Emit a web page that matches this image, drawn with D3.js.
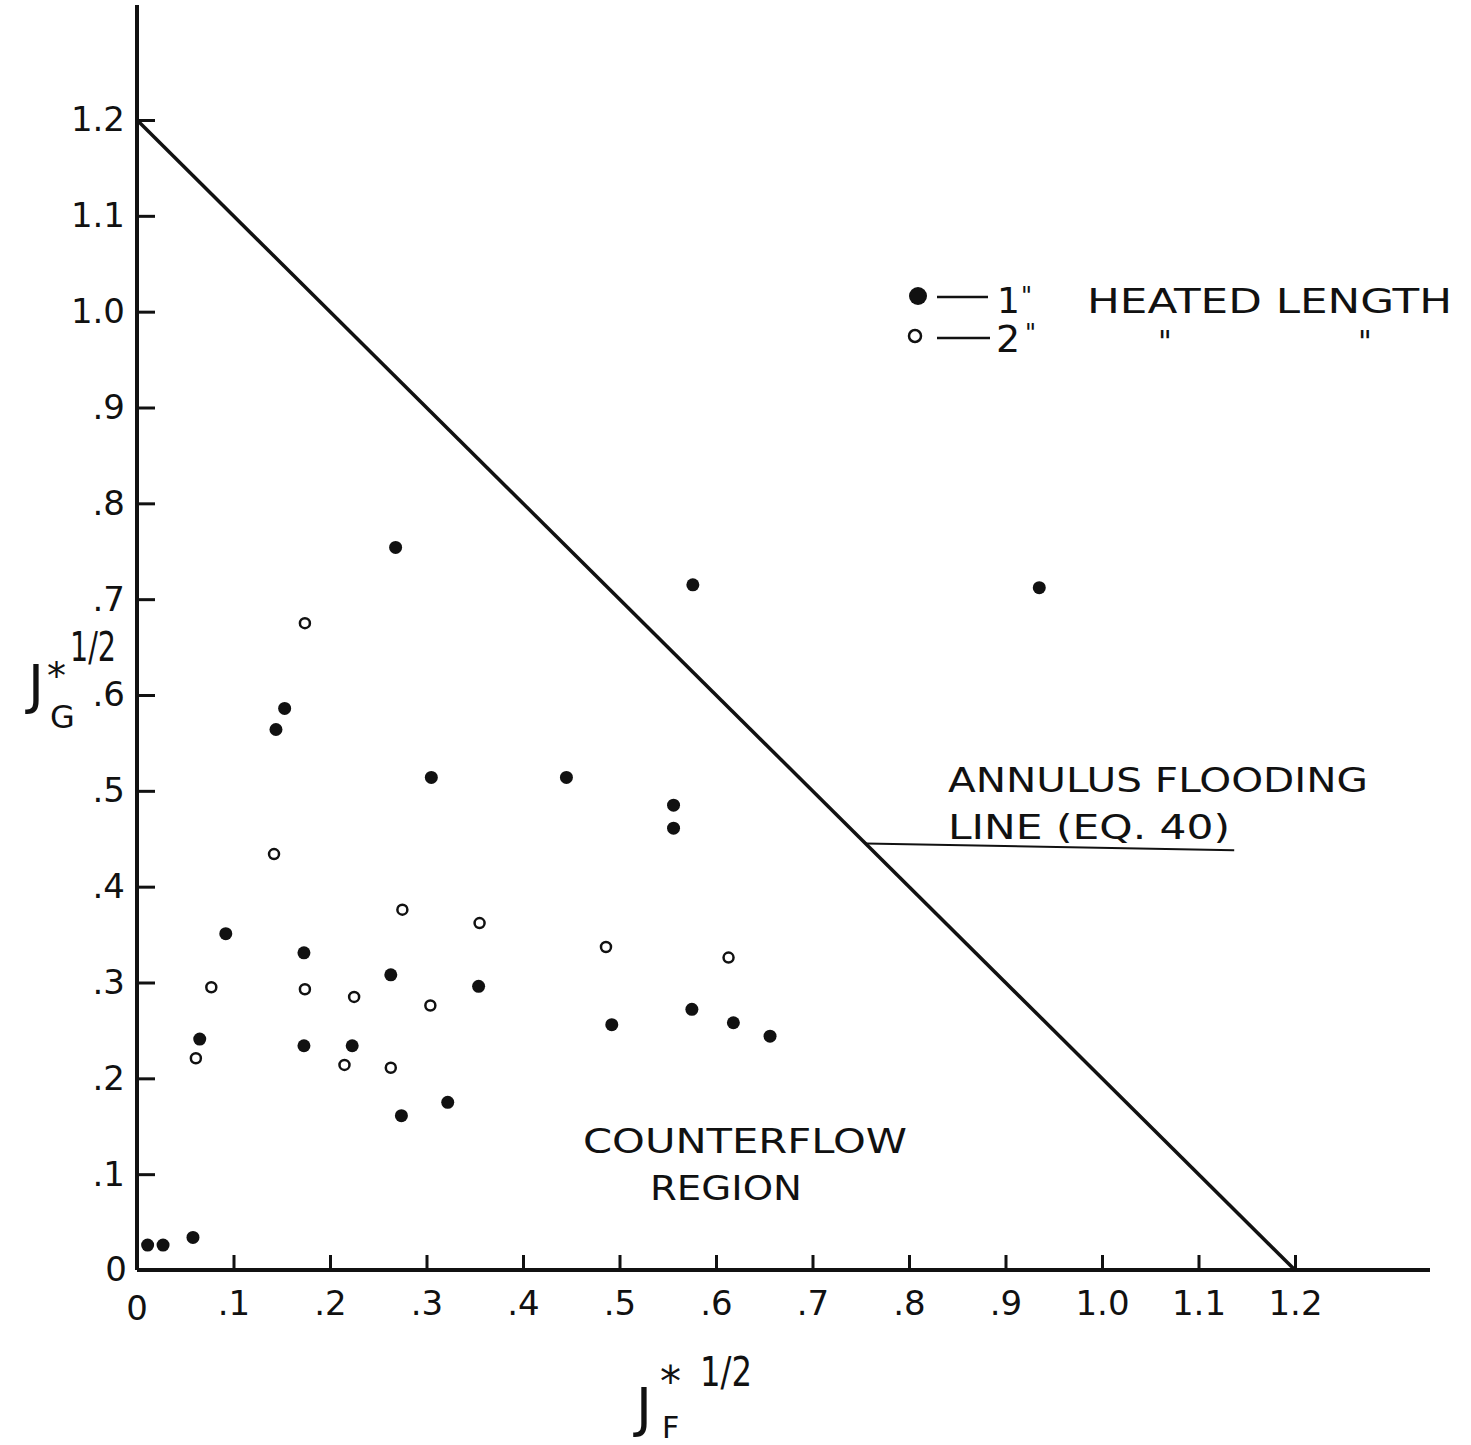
<!DOCTYPE html>
<html>
<head>
<meta charset="utf-8">
<script src="https://cdn.jsdelivr.net/npm/d3@7"></script>
<style>
  body { margin: 0; background: #fff; }
  svg text { font-family: "DejaVu Sans", sans-serif; fill: #111; }
</style>
</head>
<body>
<div class="chart"></div>
<script>
// data (J_F*^1/2, J_G*^1/2)
const heated1 = [
  [0.011, 0.026], [0.027, 0.026], [0.058, 0.034], [0.065, 0.241], [0.092, 0.351],
  [0.144, 0.564], [0.153, 0.586], [0.173, 0.331], [0.173, 0.234], [0.223, 0.234],
  [0.263, 0.308], [0.268, 0.754], [0.274, 0.161], [0.305, 0.514], [0.322, 0.175],
  [0.354, 0.296], [0.445, 0.514], [0.492, 0.256], [0.556, 0.485], [0.556, 0.461],
  [0.575, 0.272], [0.576, 0.715], [0.618, 0.258], [0.656, 0.244], [0.935, 0.712]
];
const heated2 = [
  [0.061, 0.221], [0.077, 0.295], [0.142, 0.434], [0.174, 0.675], [0.174, 0.293],
  [0.215, 0.214], [0.225, 0.285], [0.263, 0.211], [0.275, 0.376], [0.304, 0.276],
  [0.355, 0.362], [0.486, 0.337], [0.613, 0.326]
];
const floodLine = [[0, 1.2], [1.2, 0]];
const leader = [[0.755, 0.445], [1.137, 0.438]];
const tickValues = d3.range(0, 13).map(i => i / 10);
const tickLabels = ["0", ".1", ".2", ".3", ".4", ".5", ".6", ".7", ".8", ".9", "1.0", "1.1", "1.2"];

const svg = d3.select('.chart')
  .append('svg')
  .attr('width', 1471)
  .attr('height', 1445);

const x = d3.scaleLinear().domain([0, 1.2]).range([137, 1295]);
const y = d3.scaleLinear().domain([0, 1.2]).range([1270, 120]);
const fmt = d => tickLabels[Math.round(d * 10)];

// axes
const xAxis = svg.append('g')
  .attr('transform', `translate(0,${y(0)})`)
  .call(d3.axisBottom(x).tickValues(tickValues.slice(1)).tickFormat(fmt)
    .tickSizeInner(-15).tickSizeOuter(0).tickPadding(14));
const yAxis = svg.append('g')
  .attr('transform', `translate(${x(0)},0)`)
  .call(d3.axisLeft(y).tickValues(tickValues.slice(1)).tickFormat(fmt)
    .tickSizeInner(-18).tickSizeOuter(0).tickPadding(12));

[xAxis, yAxis].forEach(g => {
  g.select('.domain').remove();
  g.selectAll('.tick line').attr('stroke', '#111').attr('stroke-width', 3);
  g.selectAll('.tick text').attr('font-size', 34).attr('fill', '#111');
});
xAxis.selectAll('.tick text').attr('dy', '0.9em');

// zero labels
svg.append('text').attr('x', x(0)).attr('y', y(0) + 50)
  .attr('text-anchor', 'middle').attr('font-size', 34).text('0');
svg.append('text').attr('x', x(0) - 10).attr('y', y(0) + 11)
  .attr('text-anchor', 'end').attr('font-size', 34).text('0');

// axis lines
svg.append('line').attr('x1', x(0)).attr('x2', 1430).attr('y1', y(0)).attr('y2', y(0))
  .attr('stroke', '#111').attr('stroke-width', 4);
svg.append('line').attr('x1', x(0)).attr('x2', x(0)).attr('y1', 5).attr('y2', y(0))
  .attr('stroke', '#111').attr('stroke-width', 4);

// flooding line + leader
const line = d3.line().x(d => x(d[0])).y(d => y(d[1]));
svg.append('path').attr('d', line(floodLine))
  .attr('fill', 'none').attr('stroke', '#111').attr('stroke-width', 3.5);
svg.append('path').attr('d', line(leader))
  .attr('fill', 'none').attr('stroke', '#111').attr('stroke-width', 2);

// points
svg.selectAll('.p1').data(heated1).enter().append('circle')
  .attr('class', 'p1')
  .attr('cx', d => x(d[0])).attr('cy', d => y(d[1]))
  .attr('r', 6.5).attr('fill', '#111');
svg.selectAll('.p2').data(heated2).enter().append('circle')
  .attr('class', 'p2')
  .attr('cx', d => x(d[0])).attr('cy', d => y(d[1]))
  .attr('r', 5).attr('fill', 'none').attr('stroke', '#111').attr('stroke-width', 2.5);

// labels
const label = (t, px, py, w, size) => svg.append('text')
  .attr('x', px).attr('y', py).attr('font-size', size || 34)
  .attr('textLength', w).attr('lengthAdjust', 'spacingAndGlyphs').text(t);

label('ANNULUS  FLOODING', 948, 792, 420);
label('LINE (EQ. 40)', 948, 839, 282);
label('COUNTERFLOW', 583, 1153, 324);
label('REGION', 650, 1200, 152);

// legend
svg.append('circle').attr('cx', 918).attr('cy', 296).attr('r', 9).attr('fill', '#111');
svg.append('circle').attr('cx', 915).attr('cy', 336).attr('r', 6)
  .attr('fill', 'none').attr('stroke', '#111').attr('stroke-width', 2.5);
svg.append('line').attr('x1', 937).attr('x2', 988).attr('y1', 297).attr('y2', 297)
  .attr('stroke', '#111').attr('stroke-width', 2.5);
svg.append('line').attr('x1', 937).attr('x2', 990).attr('y1', 338).attr('y2', 338)
  .attr('stroke', '#111').attr('stroke-width', 2.5);
svg.append('text').attr('x', 997).attr('y', 313).attr('font-size', 36).text('1');
svg.append('text').attr('x', 1021).attr('y', 304).attr('font-size', 24).text('"');
svg.append('text').attr('x', 996).attr('y', 352).attr('font-size', 38).text('2');
svg.append('text').attr('x', 1025).attr('y', 341).attr('font-size', 24).text('"');
label('HEATED LENGTH', 1087, 313, 365);
svg.append('text').attr('x', 1158).attr('y', 352).attr('font-size', 30).text('"');
svg.append('text').attr('x', 1358).attr('y', 352).attr('font-size', 30).text('"');

// axis titles: [dx, dy, size, text, width]
const title = (px, py, parts) => {
  const g = svg.append('g');
  parts.forEach(p => {
    const t = g.append('text')
      .attr('x', px + p[0]).attr('y', py + p[1]).attr('font-size', p[2]).text(p[3]);
    if (p[4]) t.attr('textLength', p[4]).attr('lengthAdjust', 'spacingAndGlyphs');
  });
};
title(28, 703, [[0, 0, 54, 'J'], [19, -14, 38, '*'], [42, -42, 40, '1/2', 46], [22, 25, 32, 'G']]);
title(636, 1426, [[0, 0, 54, 'J'], [24, -30, 42, '*'], [64, -40, 40, '1/2', 52], [26, 12, 30, 'F']]);
</script>
</body>
</html>
